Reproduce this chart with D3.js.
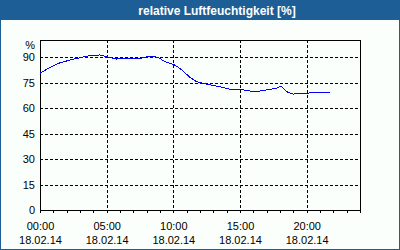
<!DOCTYPE html>
<html><head><meta charset="utf-8">
<script src="https://cdn.jsdelivr.net/npm/d3@7"></script>
<style>
html,body{margin:0;padding:0;background:#fff;}
svg{display:block;}
text{font-family:"Liberation Sans",Arial,sans-serif;}
</style></head>
<body>
<svg id="c" width="400" height="250"></svg>
<script>
const title = "relative Luftfeuchtigkeit [%]";
const unitLabel = "%";
const hours = [0, 0.75, 1.5, 2.25, 3, 3.75, 4.5, 5, 5.75, 6.5, 7.5, 8.25, 8.875, 9.375, 10, 10.5, 11.25, 11.75, 12.5, 13, 13.5, 14.25, 15, 15.75, 16.5, 17.25, 17.75, 18.08, 18.5, 19, 19.75, 20.5, 21.25, 21.75];
const humidity = [80.4, 83.9, 86.6, 88.2, 89.6, 90.8, 91.2, 90.2, 88.8, 89.2, 89.2, 90.6, 89.8, 87.2, 85.7, 83.3, 78, 75.5, 74.1, 73.2, 72.5, 71, 71, 70, 70, 71, 71.6, 72.9, 69.6, 68.2, 68.6, 69, 69.2, 69.2];
const yTicks = [0, 15, 30, 45, 60, 75, 90];
const xTickHours = [0, 5, 10, 15, 20];
const xTimeLabels = ["00:00", "05:00", "10:00", "15:00", "20:00"];
const xDateLabels = ["18.02.14", "18.02.14", "18.02.14", "18.02.14", "18.02.14"];
const minorHours = d3.range(0, 25, 1);

const svg = d3.select("#c");
const W = 400, H = 250;
const blue = "#1c5e95";
svg.append("rect").attr("x",0).attr("y",0).attr("width",W).attr("height",H).attr("fill","#fbfffb");
svg.append("rect").attr("x",0.5).attr("y",0.5).attr("width",W-1).attr("height",H-1).attr("fill","none").attr("stroke",blue);
svg.append("rect").attr("x",0).attr("y",0).attr("width",W).attr("height",20).attr("fill",blue);
svg.append("text").attr("x",217).attr("y",15).attr("text-anchor","middle")
  .attr("fill","#fff").attr("font-weight","bold").attr("font-size","12px").text(title);

const L = 40, R = 360, T = 40, B = 210;
const x = d3.scaleLinear().domain([0,24]).range([L,R]);
const y = d3.scaleLinear().domain([0,100]).range([B,T]);

const g = svg.append("g").attr("shape-rendering","crispEdges");
g.selectAll(".hg").data(yTicks.filter(v=>v>0)).join("line")
  .attr("x1",L).attr("x2",R).attr("y1",d=>Math.round(y(d))+0.5).attr("y2",d=>Math.round(y(d))+0.5)
  .attr("stroke","#000").attr("stroke-dasharray","3,2");
g.selectAll(".vg").data(xTickHours.filter(v=>v>0)).join("line")
  .attr("y1",T).attr("y2",B).attr("x1",d=>Math.round(x(d))+0.5).attr("x2",d=>Math.round(x(d))+0.5)
  .attr("stroke","#000").attr("stroke-dasharray","3,2");
g.selectAll(".mt").data(minorHours).join("line")
  .attr("y1",B).attr("y2",B+3).attr("x1",d=>Math.round(x(d))+0.5).attr("x2",d=>Math.round(x(d))+0.5)
  .attr("stroke","#000");
g.append("rect").attr("x",L+0.5).attr("y",T+0.5).attr("width",R-L).attr("height",B-T)
  .attr("fill","none").attr("stroke","#000");

svg.selectAll(".yl").data(yTicks).join("text")
  .attr("x",35).attr("y",d=>y(d)+4).attr("text-anchor","end").attr("font-size","11px").attr("fill","#000")
  .text(d=>d);
svg.append("text").attr("x",35).attr("y",49).attr("text-anchor","end").attr("font-size","11px").text(unitLabel);
svg.selectAll(".xl").data(xTickHours).join("text")
  .attr("x",d=>x(d)+0.5).attr("y",230).attr("text-anchor","middle").attr("font-size","11px")
  .text((d,i)=>xTimeLabels[i]);
svg.selectAll(".xd").data(xTickHours).join("text")
  .attr("x",d=>x(d)+0.5).attr("y",244).attr("text-anchor","middle").attr("font-size","11px")
  .text((d,i)=>xDateLabels[i]);

const line = d3.line().x((d,i)=>x(hours[i])).y(d=>y(d));
svg.append("path").datum(humidity).attr("d",line).attr("fill","none")
  .attr("stroke","#0000ff").attr("stroke-width",1).attr("shape-rendering","crispEdges");
</script>
</body></html>
